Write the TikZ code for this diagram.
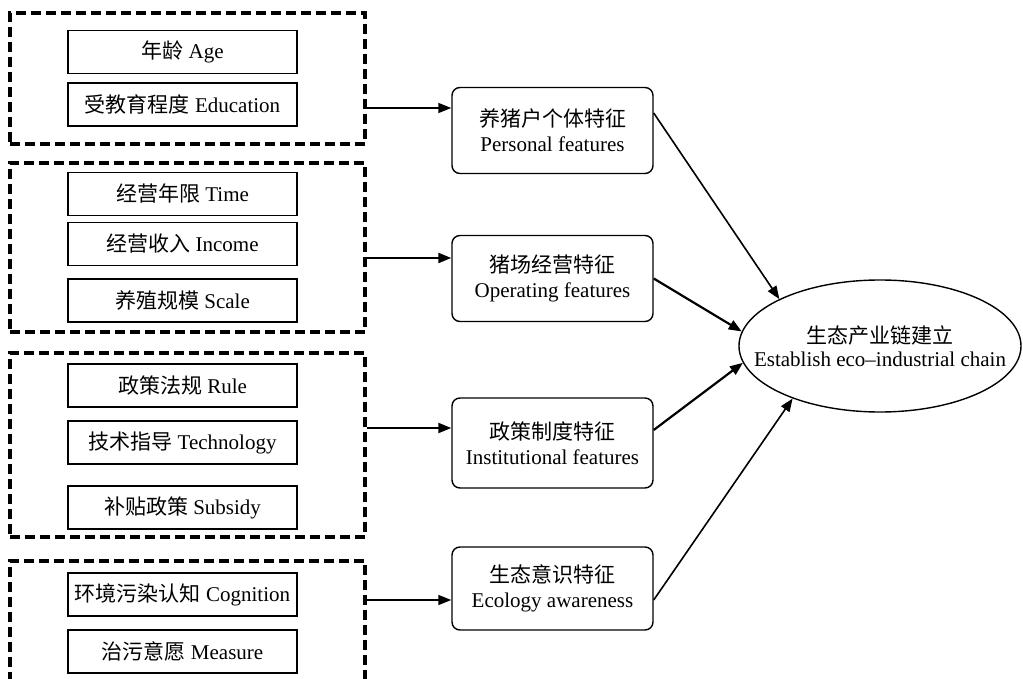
\documentclass[tikz,border=0pt]{standalone}
\usepackage{fontspec}
\setmainfont{Liberation Serif}
\newfontfamily\cjk{Noto Sans CJK SC}
\usetikzlibrary{arrows.meta,shapes.geometric}

\tikzset{
	itembox/.style={draw, line width=.6pt, minimum width=114.5pt, minimum height=21.5pt, inner sep=0pt, font=\fontsize{10.5}{12}\selectfont},
	groupbox/.style={draw, line width=1.6pt, dash pattern=on 5pt off 2.5pt, inner sep=0pt},
	featbox/.style={draw, line width=.7pt, rounded corners=4pt, minimum width=100.5pt, minimum height=43pt, inner sep=0pt, align=center, font=\fontsize{10.5}{12.5}\selectfont},
	goalnode/.style={draw, ellipse, line width=.7pt, minimum width=141pt, minimum height=66pt, inner xsep=-14pt, inner ysep=0pt, align=center, font=\fontsize{10.5}{11.5}\selectfont},
	linkarrow/.style={-{Triangle[length=6.5pt, width=5pt]}, line width=.8pt}
}

\begin{document}
	\begin{tikzpicture}[x=.5pt, y=-.5pt]
		\clip (0,0) rectangle (1023,679);
		% dashed groups
		\node[groupbox, minimum width=177.5pt, minimum height=65.5pt] (grp1) at (187.5,78.5) {};
		\node[groupbox, minimum width=177.5pt, minimum height=84.5pt] (grp2) at (187.5,247.5) {};
		\node[groupbox, minimum width=177.5pt, minimum height=92pt] (grp3) at (187.5,445) {};
		\node[groupbox, minimum width=177.5pt, minimum height=99.5pt] (grp4) at (187.5,660.5) {};
		% factors
		\foreach \ypos/\zh/\en [count = \i] in {
				52/年龄/Age, 104.5/受教育程度/Education,
				194/经营年限/Time, 244/经营收入/Income, 300.5/养殖规模/Scale,
				385.5/政策法规/Rule, 442.5/技术指导/Technology, 507.5/补贴政策/Subsidy,
				594.5/环境污染认知/Cognition, 651.5/治污意愿/Measure}{
				\node[itembox] (item\i) at (182.5,\ypos) {{\cjk \zh} \en};
			}
		% features
		\node[featbox] (feat1) at (552.5,130.5) {{\cjk 养猪户个体特征}\\Personal features};
		\node[featbox] (feat2) at (552.5,278.5) {{\cjk 猪场经营特征}\\Operating features};
		\node[featbox, minimum height=45pt] (feat3) at (552.5,443) {{\cjk 政策制度特征}\\Institutional features};
		\node[featbox, minimum height=41.5pt] (feat4) at (552.5,588.5) {{\cjk 生态意识特征}\\Ecology awareness};
		\node[goalnode] (goal) at (880,346) {{\cjk 生态产业链建立}\\Establish eco--industrial chain};
		% links
		\draw[linkarrow] ([yshift=-14.75pt]grp1.east) coordinate (out1) -- (out1 -| feat1.west);
		\draw[linkarrow, line width=1.1pt] ([yshift=-5.25pt]grp2.east) coordinate (out2) -- (out2 -| feat2.west);
		\draw[linkarrow, line width=1.1pt] ([yshift=8.5pt]grp3.east) coordinate (out3) -- (out3 -| feat3.west);
		\draw[linkarrow] ([yshift=30.25pt]grp4.east) coordinate (out4) -- (out4 -| feat4.west);
		\draw[linkarrow] ([yshift=8.75pt]feat1.east) -- (goal.155);
		\draw[linkarrow, line width=1.1pt] (feat2.east) -- (goal.174);
		\draw[linkarrow, line width=1.1pt] ([yshift=6.5pt]feat3.east) -- (goal.187);
		\draw[linkarrow] ([yshift=-5.75pt]feat4.east) -- (goal.211);
	\end{tikzpicture}
\end{document}
